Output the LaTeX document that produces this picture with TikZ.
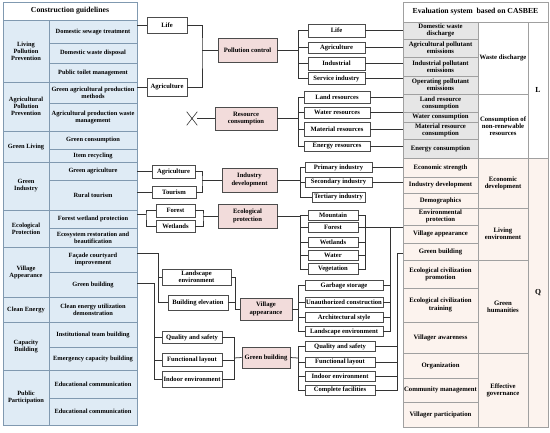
\documentclass[tikz,border=0pt]{standalone}
\usepackage{fontspec}
\setmainfont{Liberation Serif}
\usetikzlibrary{shapes.misc}
\definecolor{pinkbox}{HTML}{F2DCDB}
\definecolor{leftbg}{HTML}{DFEBF5}
\definecolor{lgrid}{HTML}{8099B0}
\definecolor{rgrid}{HTML}{A0A0A0}
\definecolor{lgray}{HTML}{E6E6E6}
\definecolor{peach}{HTML}{FCF3EE}
\newcommand\mbx[6]{\node[mb,minimum width=#4pt,minimum height=#5pt] (#1) at (#2,#3) {#6};}
\newcommand\pbx[6]{\node[pb,minimum width=#4pt,minimum height=#5pt] (#1) at (#2,#3) {#6};}
\begin{document}
\begin{tikzpicture}[x=1pt,y=-1pt,
  tx/.style={font=\fontsize{6.4}{7}\selectfont\bfseries, align=center, inner sep=0pt},
  mtx/.style={font=\fontsize{6.6}{7.2}\selectfont\bfseries, align=center, inner sep=0pt},
  rtx/.style={font=\fontsize{6.7}{7.2}\selectfont\bfseries, align=center, inner sep=0pt},
  hd/.style={font=\fontsize{7.7}{8.5}\selectfont\bfseries, align=center, inner sep=0pt},
  mb/.style={mtx, draw=black!70, line width=0.7pt, fill=white},
  pb/.style={mtx, draw=black!70, line width=0.7pt, fill=pinkbox},
  ln/.style={draw=black!80, line width=0.75pt},
  lg/.style={draw=lgrid, line width=0.55pt},
  rg/.style={draw=rgrid, line width=0.55pt}]
\useasboundingbox (0,0) rectangle (550,432);
\fill[white] (0,0) rectangle (550,432);
% ---------- left table ----------
\fill[leftbg] (3,20) rectangle (137,425);
\draw[lg] (3,2) rectangle (137,425);
\draw[lg] (3,20) -- (137,20);
\draw[lg] (49,20) -- (49,425);
\foreach \y in {82,131,162,210,247,297,322,370} \draw[lg] (3,\y) -- (137,\y);
\foreach \y in {43,63,103,149,180,228,272,347,398} \draw[lg] (49,\y) -- (137,\y);
\node[hd] (lth) at (70,11) {Construction guidelines};
\node[tx] (lc1) at (26,51) {Living\\Pollution\\Prevention};
\node[tx] (lc2) at (26,106.5) {Agricultural\\Pollution\\Prevention};
\node[tx] (lc3) at (26,146.5) {Green Living};
\node[tx] (lc4) at (26,186) {Green\\Industry};
\node[tx] (lc5) at (26,228.5) {Ecological\\Protection};
\node[tx] (lc6) at (26,272) {Village\\Appearance};
\node[tx] (lc7) at (26,309.5) {Clean Energy};
\node[tx] (lc8) at (26,346) {Capacity\\Building};
\node[tx] (lc9) at (26,397.5) {Public\\Participation};
\node[tx] (ld1) at (93,31.5) {Domestic sewage treatment};
\node[tx] (ld2) at (93,53) {Domestic waste disposal};
\node[tx] (ld3) at (93,72.5) {Public toilet management};
\node[tx] (ld4) at (93,92.5) {Green agricultural production\\methods};
\node[tx] (ld5) at (93,117) {Agricultural production waste\\management};
\node[tx] (ld6) at (93,140) {Green consumption};
\node[tx] (ld7) at (93,155.5) {Item recycling};
\node[tx] (ld8) at (93,171) {Green agriculture};
\node[tx] (ld9) at (93,195) {Rural tourism};
\node[tx] (ld10) at (93,219) {Forest wetland protection};
\node[tx] (ld11) at (93,237.5) {Ecosystem restoration and\\beautification};
\node[tx] (ld12) at (93,259.5) {Façade courtyard\\improvement};
\node[tx] (ld13) at (93,284.5) {Green building};
\node[tx] (ld14) at (93,309.5) {Clean energy utilization\\demonstration};
\node[tx] (ld15) at (93,334.5) {Institutional team building};
\node[tx] (ld16) at (93,358.5) {Emergency capacity building};
\node[tx] (ld17) at (93,384) {Educational communication};
\node[tx] (ld18) at (93,411.5) {Educational communication};
% ---------- right table ----------
\fill[lgray] (403,22) rectangle (478,158);
\fill[peach] (403,158) rectangle (548,427);
\draw[rg] (403,2) rectangle (548,427);
\draw[rg] (403,22) -- (548,22);
\draw[rg] (478,22) -- (478,427);
\draw[rg] (528,22) -- (528,427);
\foreach \y in {39,57,76,94,112,122,139,158,177,193,208,225,243,260,288,322,353,378,402} \draw[rg] (403,\y) -- (478,\y);
\foreach \y in {94,158,208,260,353} \draw[rg] (478,\y) -- (528,\y);
\draw[rg] (528,158) -- (548,158);
\node[hd] (rth) at (475.5,12) {Evaluation system\ \ based on CASBEE};
\node[rtx] (r1) at (440.5,30.5) {Domestic waste\\discharge};
\node[rtx] (r2) at (440.5,48) {Agricultural pollutant\\emissions};
\node[rtx] (r3) at (440.5,66.5) {Industrial pollutant\\emissions};
\node[rtx] (r4) at (440.5,85) {Operating pollutant\\emissions};
\node[rtx] (r5) at (440.5,103) {Land resource\\consumption};
\node[rtx] (r6) at (440.5,117) {Water consumption};
\node[rtx] (r7) at (440.5,130.5) {Material resource\\consumption};
\node[rtx] (r8) at (440.5,148.5) {Energy consumption};
\node[rtx] (r9) at (440.5,167.5) {Economic strength};
\node[rtx] (r10) at (440.5,185) {Industry development};
\node[rtx] (r11) at (440.5,200.5) {Demographics};
\node[rtx] (r12) at (440.5,216.5) {Environmental\\protection};
\node[rtx] (r13) at (440.5,234) {Village appearance};
\node[rtx] (r14) at (440.5,251.5) {Green building};
\node[rtx] (r15) at (440.5,274) {Ecological civilization\\promotion};
\node[rtx] (r16) at (440.5,305) {Ecological civilization\\training};
\node[rtx] (r17) at (440.5,337.5) {Villager awareness};
\node[rtx] (r18) at (440.5,365.5) {Organization};
\node[rtx] (r19) at (440.5,390) {Community management};
\node[rtx] (r20) at (440.5,414.5) {Villager participation};
\node[rtx] (g1) at (503,58) {Waste discharge};
\node[rtx] (g2) at (503,126) {Consumption of\\non-renewable\\resources};
\node[rtx] (g3) at (503,183) {Economic\\development};
\node[rtx] (g4) at (503,234) {Living\\environment};
\node[rtx] (g5) at (503,306.5) {Green\\humanities};
\node[rtx] (g6) at (503,390) {Effective\\governance};
\node[hd] (gL) at (538,90) {L};
\node[hd] (gQ) at (538,292.5) {Q};
% ---------- edges of tables ----------
\coordinate (ltr) at (137,0);
\coordinate (rtl) at (403,0);
% ---------- middle left boxes ----------
\mbx{lifeA}{167}{25}{40}{16}{Life}
\mbx{agriA}{167}{87}{40}{18}{Agriculture}
\pbx{pollution}{247.5}{50}{59}{24}{Pollution control}
\node[cross out, draw=black!80, line width=0.6pt, minimum width=10pt, minimum height=13pt, inner sep=0pt] (xm) at (192,118.5) {};
\pbx{resource}{246}{118.5}{62}{23}{Resource\\consumption}
\mbx{agriB}{173.5}{171.5}{43}{13}{Agriculture}
\mbx{tourism}{174}{192.5}{44}{12}{Tourism}
\pbx{industry}{249.5}{180}{55}{24}{Industry\\development}
\mbx{forest}{175.5}{210.5}{39}{13}{Forest}
\mbx{wetlands}{175.5}{226}{39}{12}{Wetlands}
\pbx{ecological}{247.5}{216}{59}{24}{Ecological\\protection}
\mbx{landscape}{196.5}{277}{69}{16}{Landscape\\environment}
\mbx{elevation}{198}{302.5}{60}{15}{Building elevation}
\pbx{village}{266}{309}{52}{22}{Village\\appearance}
\mbx{quality}{192}{337.5}{60}{12}{Quality and safety}
\mbx{functional}{192}{360}{60}{13}{Functional layout}
\mbx{indoor}{192}{379.5}{60}{16}{Indoor environment}
\pbx{greenb}{266}{357.5}{48}{21}{Green building}
% ---------- middle right boxes ----------
\mbx{lifeC}{336.5}{30.5}{57}{13}{Life}
\mbx{agriC}{336.5}{47.5}{57}{11}{Agriculture}
\mbx{industrial}{336.5}{63.5}{57}{13}{Industrial}
\mbx{service}{336.5}{78.5}{57}{12}{Service industry}
\mbx{land}{337}{97}{66}{12}{Land resources}
\mbx{water}{337}{112.5}{66}{11}{Water resources}
\mbx{material}{337}{129.5}{66}{14}{Material resources}
\mbx{energy}{337}{146}{66}{10}{Energy resources}
\mbx{primary}{338.5}{167.5}{67}{10}{Primary industry}
\mbx{secondary}{338.5}{182}{67}{10}{Secondary industry}
\mbx{tertiary}{338.5}{197}{53}{10}{Tertiary industry}
\mbx{mountain}{333}{215}{50}{10}{Mountain}
\mbx{forestC}{333}{227.5}{50}{10}{Forest}
\mbx{wetlandsC}{333}{242}{50}{10}{Wetlands}
\mbx{waterC}{333}{255}{50}{10}{Water}
\mbx{vegetation}{333}{269}{50}{11}{Vegetation}
\mbx{garbage}{344}{285.5}{78}{10}{Garbage storage}
\mbx{unauth}{344}{302}{78}{10}{Unauthorized construction}
\mbx{archi}{344}{317.5}{78}{10}{Architectural style}
\mbx{landC}{344}{331.5}{78}{10}{Landscape environment}
\mbx{qualityC}{340}{346.5}{70}{10}{Quality and safety}
\mbx{functionalC}{340}{362}{70}{10}{Functional layout}
\mbx{indoorC}{340}{376}{70}{10}{Indoor environment}
\mbx{complete}{340}{390}{70}{10}{Complete facilities}
% ---------- connectors: pollution ----------
\draw[ln] (lifeA.west -| ltr) -- (lifeA.west);
\draw[ln] (agriA.west -| ltr) -- (agriA.west);
\coordinate (jp) at (202,50);
\draw[ln] (lifeA.east) -| (jp) |- (agriA.east);
\draw[ln] (jp) -- (pollution.west);
\coordinate (bp) at (298,50);
\draw[ln] (pollution.east) -- (bp);
\foreach \n in {lifeC,agriC,industrial,service} {
  \draw[ln] (\n.west) -| (bp);
  \draw[ln] (\n.east) -- (\n.east -| rtl);
}
% ---------- resource ----------
\draw[ln] (xm.east) -- (resource.west);
\coordinate (br) at (298,118.5);
\draw[ln] (resource.east) -- (br);
\foreach \n in {land,water,material,energy} {
  \draw[ln] (\n.west) -| (br);
  \draw[ln] (\n.east) -- (\n.east -| rtl);
}
% ---------- industry ----------
\draw[ln] (agriB.west -| ltr) -- (agriB.west);
\draw[ln] (tourism.west -| ltr) -- (tourism.west);
\coordinate (ji) at (202,180);
\draw[ln] (agriB.east) -| (ji) |- (tourism.east);
\draw[ln] (ji) -- (industry.west);
\coordinate (bi) at (300,180);
\draw[ln] (industry.east) -- (bi);
\foreach \n in {primary,secondary,tertiary} \draw[ln] (\n.west) -| (bi);
\foreach \n in {primary,secondary} \draw[ln] (\n.east) -- (\n.east -| rtl);
% ---------- ecological ----------
\coordinate (bel) at (146,214);
\draw[ln] (bel -| ltr) -- (bel);
\draw[ln] (forest.west) -| (bel) |- (wetlands.west);
\coordinate (je) at (203,216);
\draw[ln] (forest.east) -| (je) |- (wetlands.east);
\draw[ln] (je) -- (ecological.west);
\coordinate (be) at (300,216);
\draw[ln] (ecological.east) -- (be);
\coordinate (ber) at (365,227.5);
\foreach \n in {mountain,forestC,wetlandsC,waterC,vegetation} {
  \draw[ln] (\n.west) -| (be);
  \draw[ln] (\n.east) -| (ber);
}
\draw[ln] (ber) -- (ber -| rtl);
% ---------- village ----------
\coordinate (bvl) at (158,253);
\draw[ln] (bvl -| ltr) -- (bvl);
\draw[ln] (landscape.west) -| (bvl);
\draw[ln] (elevation.west) -| (bvl);
\coordinate (jv) at (235,309);
\draw[ln] (landscape.east) -| (jv);
\draw[ln] (elevation.east) -| (jv);
\draw[ln] (jv) -- (village.west);
\coordinate (bv) at (298,309);
\draw[ln] (village.east) -- (bv);
\coordinate (bvr) at (390,227.5);
\foreach \n in {garbage,unauth,archi,landC} {
  \draw[ln] (\n.west) -| (bv);
  \draw[ln] (\n.east) -| (bvr);
}
% ---------- green building ----------
\coordinate (bgl) at (154,283);
\draw[ln] (bgl -| ltr) -- (bgl);
\coordinate (jg) at (234,358);
\foreach \n in {quality,functional,indoor} {
  \draw[ln] (\n.west) -| (bgl);
  \draw[ln] (\n.east) -| (jg);
}
\draw[ln] (jg) -- (greenb.west);
\coordinate (bg) at (298,358);
\draw[ln] (greenb.east) -- (bg);
\coordinate (bgr) at (397,253);
\foreach \n in {qualityC,functionalC,indoorC,complete} {
  \draw[ln] (\n.west) -| (bg);
  \draw[ln] (\n.east) -| (bgr);
}
\draw[ln] (bgr) -- (bgr -| rtl);
\end{tikzpicture}
\end{document}
